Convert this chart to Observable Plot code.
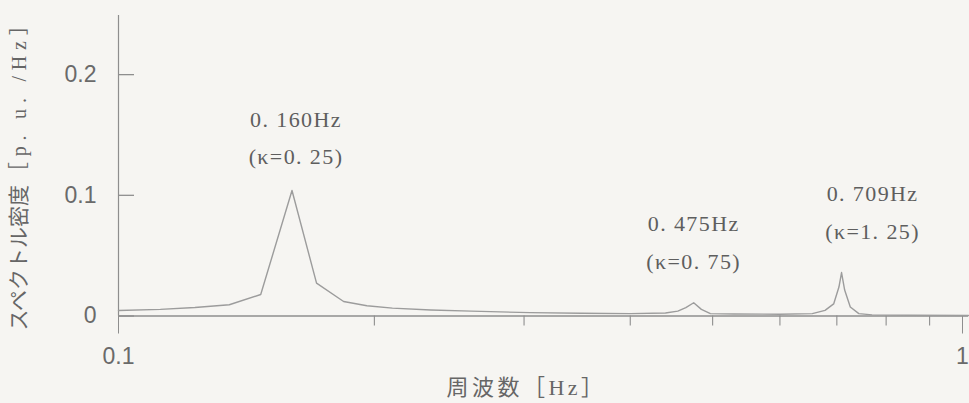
<!DOCTYPE html>
<html>
<head>
<meta charset="utf-8">
<script src="https://cdn.jsdelivr.net/npm/d3@7"></script>
<script src="https://cdn.jsdelivr.net/npm/@observablehq/plot@0.6"></script>
<style>
  html, body { margin: 0; padding: 0; background: #f6f5f2; }
  #chart svg { display: block; }
  text[aria-label="peak label"] { letter-spacing: 1.4px; }
  text[aria-label="unit label"] { letter-spacing: 5.8px; }
  text[aria-label="x title"] { letter-spacing: 3.5px; }
</style>
</head>
<body>
<div id="chart"></div>
<script>
// Power spectral density of the oscillation (p.u./Hz) against frequency (Hz)
const freq = [0.100, 0.112, 0.123, 0.135, 0.147, 0.160, 0.171, 0.184, 0.196, 0.210,
              0.233, 0.260, 0.305, 0.350, 0.400, 0.440, 0.455, 0.465, 0.475, 0.485,
              0.497, 0.530, 0.600, 0.655, 0.678, 0.694, 0.704, 0.709, 0.715, 0.726,
              0.743, 0.770, 0.850, 1.000];
const density = [0.0045, 0.0055, 0.0070, 0.0093, 0.0178, 0.1040, 0.0272, 0.0120, 0.0085, 0.0065,
                 0.0050, 0.0040, 0.0028, 0.0023, 0.0020, 0.0025, 0.0040, 0.0070, 0.0110, 0.0055,
                 0.0020, 0.0016, 0.0015, 0.0020, 0.0047, 0.0100, 0.0240, 0.0360, 0.0215, 0.0075,
                 0.0020, 0.0009, 0.0006, 0.0004];

// Dominant modes and their coupling coefficient κ
const peakFreq = [0.160, 0.475, 0.709];
const peakDensity = [0.104, 0.011, 0.036];
const peakText = ["0. 160Hz", "0. 475Hz", "0. 709Hz"];
const kappaText = ["0. 25", "0. 75", "1. 25"];

// Axes
const yTicks = [0, 0.1, 0.2];
const yTickLabels = ["0", "0.1", "0.2"];
const xMajorTicks = [0.1, 1];
const xMajorLabels = ["0.1", "1"];
const xMinorTicks = [0.2, 0.3, 0.4, 0.5, 0.6, 0.7, 0.8, 0.9];
const yTitle = "スペクトル密度";
const yUnit = "［p. u. /Hz］";
const xTitle = "周波数［Hz］";

const spectrum = freq.map((f, i) => ({f, v: density[i]}));
const peaks = peakFreq.map((f, i) => ({f, v: peakDensity[i], label: `${peakText[i]}\n(κ=${kappaText[i]})`}));

const ink = "#8e8e8e";
const textInk = "#5e5e5e";
const serif = "'Liberation Serif', 'Noto Sans CJK JP', serif";
const tag = name => () => name;

const chart = Plot.plot({
  width: 969,
  height: 403,
  marginLeft: 118,
  marginRight: 1,
  marginTop: 15,
  marginBottom: 87.5,
  style: {background: "transparent", color: textInk, fontFamily: "'Liberation Sans', sans-serif", fontSize: "23px"},
  x: {type: "log", domain: [0.1, 1], axis: null},
  y: {domain: [0, 0.249], axis: null},
  marks: [
    Plot.ruleX([0.1], {stroke: ink, strokeWidth: 1.2}),
    Plot.ruleY([0], {stroke: ink, strokeWidth: 1.4}),
    // inward y ticks and their labels
    Plot.axisY(yTicks, {tickSize: 16, dx: 16, tickFormat: () => "", stroke: ink, strokeWidth: 1.3, label: null}),
    Plot.axisY(yTicks, {tickSize: 0, tickPadding: 22, tickFormat: d => yTickLabels[yTicks.indexOf(d)], fill: "#6a6a6a", fontSize: 23, label: null}),
    // x ticks: short minor ticks, long ticks at the decade ends
    Plot.axisX(xMinorTicks, {tickSize: 10, tickFormat: () => "", stroke: ink, strokeWidth: 1.1, label: null}),
    Plot.axisX(xMajorTicks.slice(0, 1), {tickSize: 18, tickPadding: 14, tickFormat: () => xMajorLabels[0], stroke: ink, fill: "#6a6a6a", fontSize: 23, label: null}),
    Plot.axisX(xMajorTicks.slice(1), {tickSize: 18, tickPadding: 14, tickFormat: () => xMajorLabels[1], stroke: ink, fill: "#6a6a6a", fontSize: 23, label: null, dx: -6}),
    // spectrum
    Plot.line(spectrum, {x: "f", y: "v", stroke: "#9c9c9c", strokeWidth: 1.4}),
    // peak annotations
    Plot.text(peaks.filter(d => d.f < 0.3), {x: "f", y: "v", text: "label", lineAnchor: "bottom", lineHeight: 1.7, dy: -26, dx: 4,
      fontFamily: serif, fontSize: 22, fill: textInk, ariaLabel: tag("peak label")}),
    Plot.text(peaks.filter(d => d.f > 0.3 && d.f < 0.7), {x: "f", y: "v", text: "label", lineAnchor: "bottom", lineHeight: 1.7, dy: -34, dx: 0,
      fontFamily: serif, fontSize: 22, fill: textInk, ariaLabel: tag("peak label")}),
    Plot.text(peaks.filter(d => d.f > 0.7), {x: "f", y: "v", text: "label", lineAnchor: "bottom", lineHeight: 1.7, dy: -34, dx: 31,
      fontFamily: serif, fontSize: 22, fill: textInk, ariaLabel: tag("peak label")}),
    // axis titles
    Plot.text([yTitle], {frameAnchor: "left", rotate: -90, dx: -99, dy: 92, textAnchor: "middle", lineAnchor: "middle",
      fontFamily: "'Noto Sans CJK JP', sans-serif", fontSize: 21, fill: "#666"}),
    Plot.text([yUnit], {frameAnchor: "left", rotate: -90, dx: -99, dy: -70, textAnchor: "middle", lineAnchor: "middle",
      fontFamily: serif, fontSize: 20, fill: "#666", ariaLabel: tag("unit label")}),
    Plot.text([xTitle], {frameAnchor: "bottom", dx: -17, dy: 72, textAnchor: "middle", lineAnchor: "middle",
      fontFamily: serif, fontSize: 22, fill: "#666", ariaLabel: tag("x title")})
  ]
});

document.getElementById("chart").append(chart);
</script>
</body>
</html>
